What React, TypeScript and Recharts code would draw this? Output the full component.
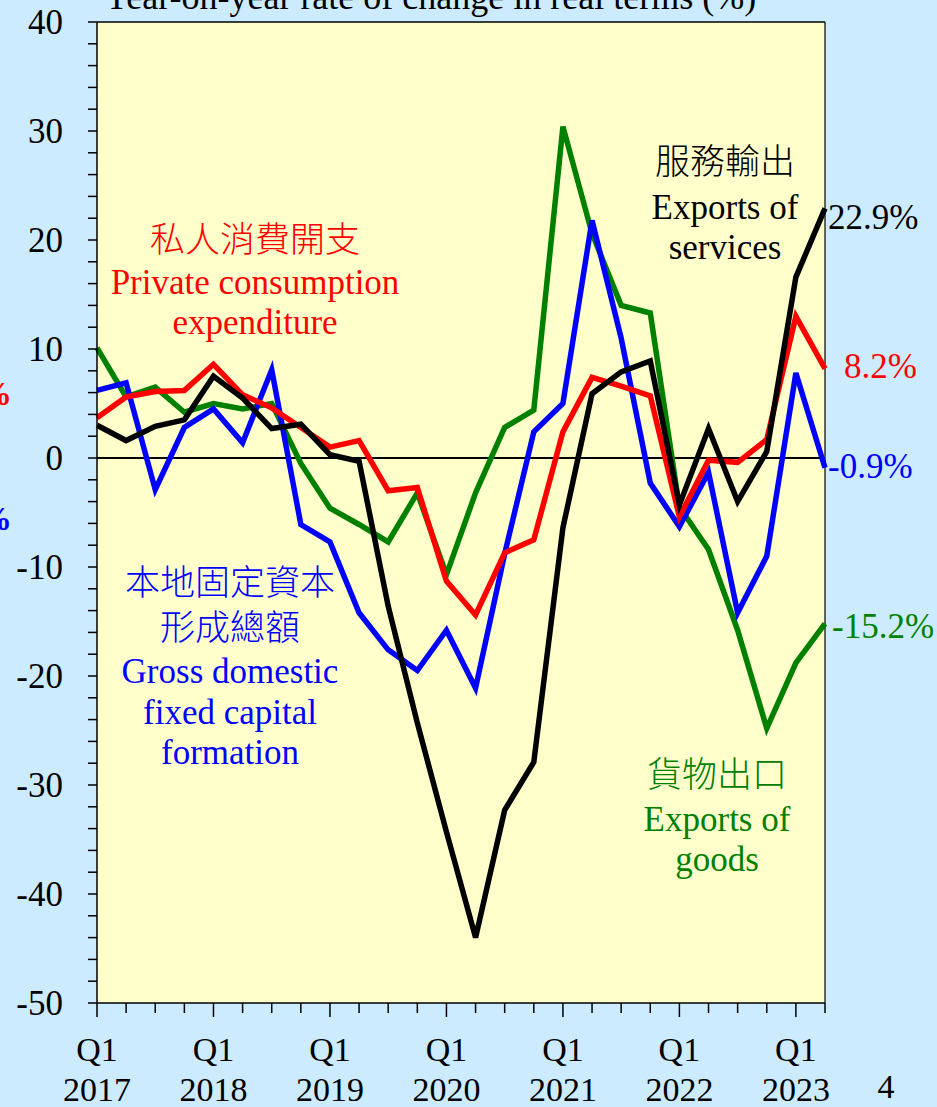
import React from 'react';
import { LineChart, Line, XAxis, YAxis, CartesianGrid, ReferenceLine } from 'recharts';

const categories = [
  'Q1 2017', 'Q2 2017', 'Q3 2017', 'Q4 2017',
  'Q1 2018', 'Q2 2018', 'Q3 2018', 'Q4 2018',
  'Q1 2019', 'Q2 2019', 'Q3 2019', 'Q4 2019',
  'Q1 2020', 'Q2 2020', 'Q3 2020', 'Q4 2020',
  'Q1 2021', 'Q2 2021', 'Q3 2021', 'Q4 2021',
  'Q1 2022', 'Q2 2022', 'Q3 2022', 'Q4 2022',
  'Q1 2023', 'Q2 2023',
];

const privateConsumption = [3.7, 5.6, 6.1, 6.2, 8.6, 5.8, 4.6, 2.8, 1.0, 1.6, -3.0, -2.7, -11.3, -14.4, -8.7, -7.5, 2.4, 7.4, 6.6, 5.7, -5.4, -0.2, -0.4, 1.7, 13.0, 8.2];
const fixedCapital = [6.2, 6.9, -2.9, 2.8, 4.5, 1.4, 8.1, -6.1, -7.7, -14.2, -17.6, -19.5, -15.8, -21.1, -8.8, 2.4, 5.0, 21.8, 11.0, -2.3, -6.3, -1.3, -14.2, -9.0, 7.8, -0.9];
const exportsGoods = [10.1, 5.6, 6.5, 4.2, 5.0, 4.5, 5.0, -0.5, -4.6, -6.1, -7.7, -3.2, -10.7, -3.2, 2.8, 4.4, 30.4, 20.6, 14.0, 13.3, -4.5, -8.4, -15.8, -24.8, -18.8, -15.2];
const exportsServices = [3.0, 1.6, 2.9, 3.5, 7.5, 5.5, 2.7, 3.1, 0.3, -0.3, -13.6, -24.3, -34.3, -44.0, -32.3, -27.9, -6.4, 5.9, 7.9, 8.9, -4.3, 2.7, -4.0, 0.6, 16.6, 22.9];

const yTicks = [-50, -48, -46, -44, -42, -40, -38, -36, -34, -32, -30, -28, -26, -24, -22, -20, -18, -16, -14, -12, -10, -8, -6, -4, -2, 0, 2, 4, 6, 8, 10, 12, 14, 16, 18, 20, 22, 24, 26, 28, 30, 32, 34, 36, 38, 40];

const data = categories.map((c, i) => ({
  cat: c,
  pce: privateConsumption[i],
  gdfcf: fixedCapital[i],
  goods: exportsGoods[i],
  services: exportsServices[i],
}));

const SERIF = '"Liberation Serif", "Times New Roman", serif';
const CJK = '"Noto Sans CJK TC", "Noto Sans CJK SC", sans-serif';

const YTick = (props: any) => {
  const { x, y, payload } = props;
  if (payload.value % 10 !== 0) return null;
  return (
    <text x={x} y={y} dy="0.35em" textAnchor="end" fontFamily={SERIF} fontSize={35} fill="#000">
      {payload.value}
    </text>
  );
};

const XTick = (props: any) => {
  const { x, y, payload } = props;
  const [q, yr] = String(payload.value).split(' ');
  const isQ1 = q === 'Q1';
  return (
    <g>
      <line x1={x} x2={x} y1={y} y2={y + (isQ1 ? 14 : 10)} stroke="#000" strokeWidth={1.5} />
      {isQ1 && (
        <>
          <text x={x} y={y + 58} textAnchor="middle" fontFamily={SERIF} fontSize={34} fill="#000">{q}</text>
          <text x={x} y={y + 98} textAnchor="middle" fontFamily={SERIF} fontSize={34} fill="#000">{yr}</text>
        </>
      )}
    </g>
  );
};

export default function App() {
  return (
    <div style={{ position: 'absolute', left: 0, top: 0, width: 937, height: 1107, background: '#CCEBFF', overflow: 'hidden' }}>
      <LineChart width={937} height={1107} data={data} margin={{ top: 22, right: 112, bottom: 0, left: 0 }}>
        <CartesianGrid horizontal={false} vertical={false} fill="#FFFFCC" />
        <XAxis
          dataKey="cat"
          interval={0}
          height={104}
          tickSize={0}
          tickMargin={0}
          tickLine={false}
          axisLine={{ stroke: '#000', strokeWidth: 1.5 }}
          tick={(p: any) => <XTick {...p} />}
        />
        <YAxis
          type="number"
          domain={[-50, 40]}
          ticks={yTicks}
          interval={0}
          width={97}
          tickSize={9}
          tickMargin={25}
          tickLine={{ stroke: '#000', strokeWidth: 1.5 }}
          axisLine={{ stroke: '#000', strokeWidth: 1.5 }}
          tick={(p: any) => <YTick {...p} />}
        />
        <ReferenceLine y={40} stroke="#000" strokeWidth={1.5} />
        <ReferenceLine x={categories[categories.length - 1]} stroke="#000" strokeWidth={1.2} />
        <ReferenceLine y={0} stroke="#000" strokeWidth={2} />
        <Line type="linear" dataKey="goods" stroke="#008000" strokeWidth={5.5} dot={false} isAnimationActive={false} />
        <Line type="linear" dataKey="gdfcf" stroke="#0000FF" strokeWidth={5.5} dot={false} isAnimationActive={false} />
        <Line type="linear" dataKey="pce" stroke="#FF0000" strokeWidth={5.5} dot={false} isAnimationActive={false} />
        <Line type="linear" dataKey="services" stroke="#000000" strokeWidth={5.5} dot={false} isAnimationActive={false} />
      </LineChart>
      <svg width={937} height={1107} style={{ position: 'absolute', left: 0, top: 0, pointerEvents: 'none' }}>
        <text x={430} y={9} textAnchor="middle" fontFamily={SERIF} fontSize={36} fill="#000">Year-on-year rate of change in real terms (%)</text>

        <text x={255} y={252} textAnchor="middle" fontFamily={CJK} fontWeight={300} fontSize={35} fill="#FF0000">私人消費開支</text>
        <text x={255} y={294} textAnchor="middle" fontFamily={SERIF} fontSize={35} fill="#FF0000">Private consumption</text>
        <text x={255} y={334} textAnchor="middle" fontFamily={SERIF} fontSize={35} fill="#FF0000">expenditure</text>

        <text x={230} y={595} textAnchor="middle" fontFamily={CJK} fontWeight={300} fontSize={35} fill="#0000FF">本地固定資本</text>
        <text x={230} y={640} textAnchor="middle" fontFamily={CJK} fontWeight={300} fontSize={35} fill="#0000FF">形成總額</text>
        <text x={230} y={683} textAnchor="middle" fontFamily={SERIF} fontSize={35} fill="#0000FF">Gross domestic</text>
        <text x={230} y={724} textAnchor="middle" fontFamily={SERIF} fontSize={35} fill="#0000FF">fixed capital</text>
        <text x={230} y={764} textAnchor="middle" fontFamily={SERIF} fontSize={35} fill="#0000FF">formation</text>

        <text x={725} y={174} textAnchor="middle" fontFamily={CJK} fontWeight={300} fontSize={35} fill="#000">服務輸出</text>
        <text x={725} y={219} textAnchor="middle" fontFamily={SERIF} fontSize={35} fill="#000">Exports of</text>
        <text x={725} y={259} textAnchor="middle" fontFamily={SERIF} fontSize={35} fill="#000">services</text>

        <text x={717} y={787} textAnchor="middle" fontFamily={CJK} fontWeight={300} fontSize={35} fill="#008000">貨物出口</text>
        <text x={717} y={831} textAnchor="middle" fontFamily={SERIF} fontSize={35} fill="#008000">Exports of</text>
        <text x={717} y={871} textAnchor="middle" fontFamily={SERIF} fontSize={35} fill="#008000">goods</text>

        <text x={828} y={229} fontFamily={SERIF} fontSize={35} fill="#000">22.9%</text>
        <text x={844} y={378} fontFamily={SERIF} fontSize={35} fill="#FF0000">8.2%</text>
        <text x={828} y={478} fontFamily={SERIF} fontSize={35} fill="#0000FF">-0.9%</text>
        <text x={832} y={638} fontFamily={SERIF} fontSize={35} fill="#008000">-15.2%</text>

        <text x={12} y={405} textAnchor="end" fontFamily={SERIF} fontWeight="bold" fontSize={34} fill="#FF0000">%</text>
        <text x={12} y={530} textAnchor="end" fontFamily={SERIF} fontWeight="bold" fontSize={34} fill="#0000FF">%</text>

        <text x={886} y={1098} textAnchor="middle" fontFamily={SERIF} fontSize={34} fill="#000">4</text>
      </svg>
    </div>
  );
}
